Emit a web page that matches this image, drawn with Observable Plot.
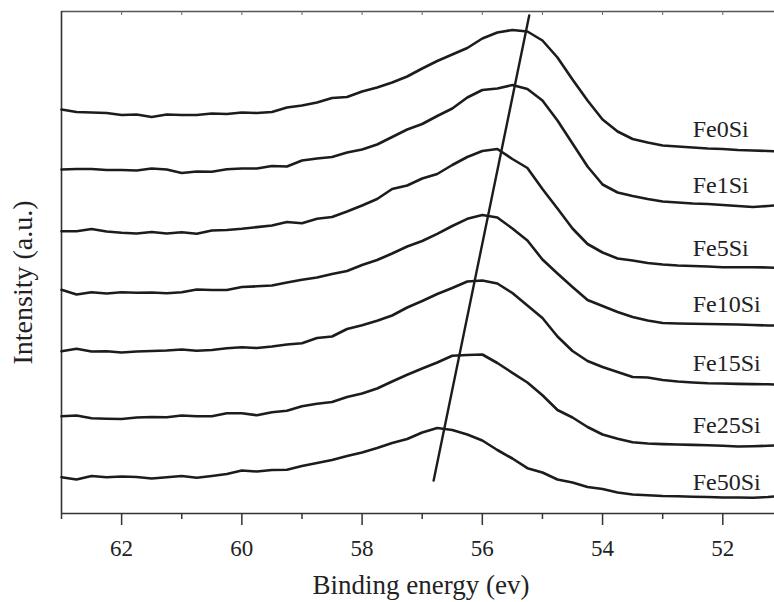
<!DOCTYPE html>
<html><head><meta charset="utf-8">
<script src="https://cdn.jsdelivr.net/npm/d3@7"></script>
<script src="https://cdn.jsdelivr.net/npm/@observablehq/plot@0.6"></script>
<style>html,body{margin:0;padding:0;background:#fff;overflow:hidden}</style>
</head><body><div id="chart"></div>
<script>
// Binding energy grid (eV)
const energy = [63, 62.75, 62.5, 62.25, 62, 61.75, 61.5, 61.25, 61, 60.75, 60.5, 60.25, 60, 59.75, 59.5, 59.25, 59, 58.75, 58.5, 58.25, 58, 57.75, 57.5, 57.25, 57, 56.75, 56.5, 56.25, 56, 55.75, 55.5, 55.25, 55, 54.75, 54.5, 54.25, 54, 53.75, 53.5, 53.25, 53, 52.75, 52.5, 52.25, 52, 51.75, 51.5, 51.25, 51.14];

const samples = ["Fe0Si", "Fe1Si", "Fe5Si", "Fe10Si", "Fe15Si", "Fe25Si", "Fe50Si"];

// Stacked intensities (a.u.)
const fe0Si  = [404, 401.5, 401, 400.5, 398.5, 399, 396.5, 399, 398.5, 398.5, 400, 399.5, 401, 400.5, 401.5, 406, 408, 411, 415.5, 416.5, 422, 426, 431, 437, 445, 452.5, 459, 465.5, 475, 481, 483.5, 482, 473, 456, 434, 413, 394, 382, 374.5, 371, 368, 367, 366, 365, 364.5, 363.5, 363, 362.5, 362.3];
const fe1Si  = [344, 344.5, 344.5, 343.5, 343.5, 343, 345, 344, 340.5, 342, 341.7, 344.3, 345, 345, 347.5, 347, 353, 355, 356.5, 361, 364, 369, 376.5, 384, 389.5, 397.5, 405, 416, 423.5, 425, 428.5, 424.5, 413, 393, 370, 347, 329, 321, 317.5, 314.5, 312, 311, 310, 309.5, 308.5, 307.5, 306.5, 307.5, 308];
const fe5Si  = [282.3, 282.3, 284.5, 282, 280.7, 280, 281.5, 280, 281.2, 279.7, 283, 283.5, 284.7, 286.4, 288, 291.5, 290.3, 294.7, 296.5, 302, 308, 314.5, 324.5, 328, 335, 339.5, 348.5, 356.5, 362.5, 364.5, 354.5, 345.5, 324.5, 305, 285, 269.5, 261, 255, 253, 250.5, 249, 248, 247.5, 247, 246.3, 246.3, 246.3, 246, 245.7];
const fe10Si = [223.7, 219, 221.3, 220, 221.2, 220.7, 221, 220.3, 221.3, 224, 223.5, 223.5, 226.5, 227.2, 228, 231, 233.7, 236, 239.5, 242.5, 248.5, 253.5, 260, 267, 272.5, 279.7, 287.5, 294.7, 298.5, 296, 285, 273, 254, 240, 226.5, 213.5, 207.5, 201.5, 196.5, 193, 190.5, 190, 189.8, 189.5, 189.2, 189, 188.5, 188, 188];
const fe15Si = [162.3, 164.7, 162, 162.3, 161, 162, 162.5, 163, 164, 162.7, 163.5, 165.3, 166.2, 165.5, 167, 169, 170.3, 175.5, 177, 184.5, 188.2, 192.7, 198, 206, 212.5, 219.5, 225.5, 232, 233, 230, 220.5, 208, 195.5, 177, 162.5, 152.5, 146.5, 141.5, 136.5, 136, 133.5, 132, 131, 130.2, 130, 129.6, 129.4, 129.2, 129];
const fe25Si = [97.3, 98, 95.2, 94.7, 94.5, 96, 96.5, 96.3, 98, 97.2, 97.3, 100.3, 100.3, 98.2, 101.3, 102.7, 107.3, 109.8, 111.5, 116.5, 120, 125, 132, 138.7, 145, 151, 157.7, 158.5, 159, 150.5, 140.7, 131, 118.2, 103.5, 96, 86.5, 79, 74.8, 71.3, 70, 69.4, 69, 68.6, 68.2, 67.8, 67, 67.3, 67.7, 68];
const fe50Si = [36.3, 34, 37.5, 36.3, 37, 36.5, 35, 36.3, 37.5, 35.7, 37.5, 39.5, 43, 42, 43.5, 43.7, 47.5, 50.5, 53.5, 57.5, 61, 65.5, 70.5, 74.5, 81, 85.5, 83.5, 79, 73, 63.5, 55, 45.3, 41, 34, 31, 26.5, 24.5, 21, 19, 18.2, 17.5, 17.2, 16.8, 16.5, 16, 16, 15.8, 16.5, 17];

// Sample labels placed at this energy and these intensities
const labelEnergy = 52.5;
const labelIntensity = [384, 328, 265, 209, 150, 88, 31];

// Peak shift guide line
const shiftEnergy = [56.81, 55.22];
const shiftIntensity = [33, 498];

// Axis ticks
const majorTicks = [62, 60, 58, 56, 54, 52];
const minorTicks = [63, 61, 59, 57, 55, 53];
const topTicks = [62, 61, 60, 59, 58, 57, 56, 55, 54, 53, 52];
const yDomain = [0, 502];

const series = [fe0Si, fe1Si, fe5Si, fe10Si, fe15Si, fe25Si, fe50Si];
const rows = series.flatMap((vals, i) => vals.map((v, j) => ({sample: samples[i], energy: energy[j], intensity: v})));
const labels = samples.map((s, i) => ({sample: s, energy: labelEnergy, intensity: labelIntensity[i]}));
const shift = shiftEnergy.map((e, i) => ({energy: e, intensity: shiftIntensity[i]}));

const serif = "'Liberation Serif', 'DejaVu Serif', serif";
const ink = "#1c1c1c";

const chart = Plot.plot({
  width: 774,
  height: 602,
  marginLeft: 61,
  marginRight: 0,
  marginTop: 11,
  marginBottom: 89,
  style: "font-family: 'Liberation Serif', 'DejaVu Serif', serif; background: #fff; color: #222;",
  x: {domain: [63, 51.14], label: null},
  y: {domain: yDomain, axis: null},
  marks: [
    Plot.ruleY([yDomain[0]], {stroke: "#333", strokeWidth: 1.6}),
    Plot.ruleY([yDomain[1]], {stroke: "#555", strokeWidth: 1.4}),
    Plot.ruleX([63], {stroke: "#333", strokeWidth: 1.6}),
    Plot.tickX(topTicks, {x: d => d, insetBottom: 498, stroke: "#666", strokeWidth: 1}),
    Plot.axisX({ticks: majorTicks, tickSize: 12, tickPadding: 14, fontSize: 23, fontFamily: serif, tickFormat: d => String(d), label: null, stroke: "#333", strokeWidth: 1.5, fill: "#222"}),
    Plot.axisX({ticks: minorTicks, tickSize: 6, tickFormat: () => "", label: null, stroke: "#333", strokeWidth: 1.5}),
    Plot.line(rows, {x: "energy", y: "intensity", z: "sample", stroke: ink, strokeWidth: 2.6, strokeLinejoin: "round"}),
    Plot.line(shift, {x: "energy", y: "intensity", stroke: ink, strokeWidth: 2.4}),
    Plot.text(labels, {x: "energy", y: "intensity", text: "sample", textAnchor: "start", fontSize: 24, fontFamily: serif, fill: "#222"}),
    Plot.text(["Intensity (a.u.)"], {frameAnchor: "left", textAnchor: "middle", lineAnchor: "middle", rotate: -90, dx: -38, dy: 20, fontSize: 28, fontFamily: serif, fill: "#222"}),
    Plot.text(["Binding energy (ev)"], {frameAnchor: "bottom", textAnchor: "middle", lineAnchor: "middle", dx: 3, dy: 72, fontSize: 27, fontFamily: serif, fill: "#222"})
  ]
});
document.getElementById("chart").appendChild(chart);
</script>
</body></html>
